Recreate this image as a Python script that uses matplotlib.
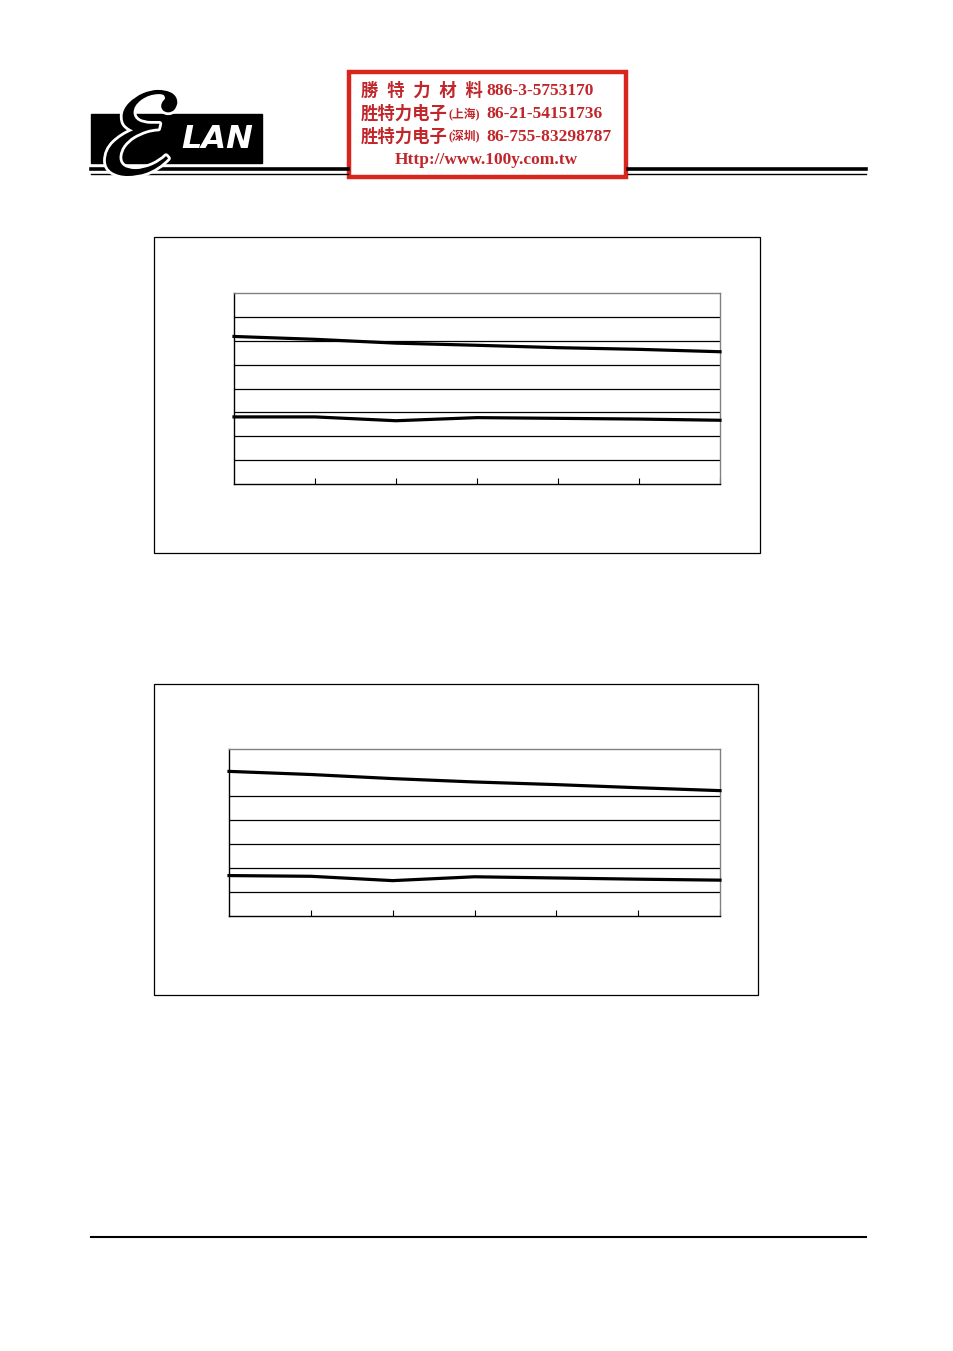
import matplotlib.pyplot as plt
import matplotlib.patheffects as pe
from matplotlib.patches import Rectangle
from matplotlib.lines import Line2D

# page is 954 x 1351 px, drawn at 100 dpi
W, H = 954, 1351

# x positions (no axis labels survive on the page)
x_pts = [0, 1, 2, 3, 4, 5, 6]

# chart 1 (grid units, 8 divisions)
c1_upper = [6.18, 6.06, 5.90, 5.81, 5.71, 5.64, 5.54]
c1_lower = [2.81, 2.81, 2.65, 2.78, 2.75, 2.72, 2.67]

# chart 2 (grid units, top at ~7)
c2_upper = [6.01, 5.88, 5.71, 5.57, 5.46, 5.33, 5.21]
c2_lower = [1.68, 1.65, 1.47, 1.63, 1.58, 1.53, 1.49]

# red contact box in the page header
header_names = ["勝  特  力  材  料", "胜特力电子", "胜特力电子"]
header_places = ["", "(上海)", "(深圳)"]
header_phones = ["886-3-5753170", "86-21-54151736", "86-755-83298787"]
url = "Http://www.100y.com.tw"

RED = "#c0262a"
FAM = ["Liberation Serif", "Noto Sans CJK SC"]


def fx(px):
    return px / W


def fy(py):
    return 1 - py / H


def box(fig, x0, y0, x1, y1, **kw):
    fig.add_artist(Rectangle((fx(x0), fy(y1)), fx(x1) - fx(x0), fy(y0) - fy(y1),
                             transform=fig.transFigure, fill=False, **kw))


def hline(fig, x0, x1, y, lw, color="black"):
    fig.add_artist(Line2D([fx(x0), fx(x1)], [fy(y), fy(y)], transform=fig.transFigure,
                          color=color, linewidth=lw))


def chart(fig, rect_px, upper, lower, ymax, grid_levels):
    x0, y0, x1, y1 = rect_px
    ax = fig.add_axes([fx(x0), fy(y1), fx(x1) - fx(x0), fy(y0) - fy(y1)])
    ax.plot(x_pts, upper, color="black", linewidth=2.3, clip_on=False, zorder=3)
    ax.plot(x_pts, lower, color="black", linewidth=2.3, clip_on=False, zorder=3)
    for g in grid_levels:
        ax.axhline(g, color="black", linewidth=0.9, zorder=1)
    ax.set_xlim(0, 6)
    ax.set_ylim(0, ymax)
    ax.set_xticks(x_pts[1:])
    ax.set_yticks([])
    ax.tick_params(axis="x", direction="in", length=4, width=0.8, labelbottom=False)
    for s in ("left", "bottom"):
        ax.spines[s].set_color("black")
        ax.spines[s].set_linewidth(1.0)
    for s in ("top", "right"):
        ax.spines[s].set_color("#808080")
        ax.spines[s].set_linewidth(1.0)
    return ax


fig = plt.figure(figsize=(W / 100, H / 100), dpi=100)

# --- header: logo ---
fig.add_artist(Rectangle((fx(91), fy(163)), fx(262) - fx(91), fy(114) - fy(163),
                         transform=fig.transFigure, color="black"))
fig.text(fx(217), fy(139), "LAN", color="white", fontsize=23, fontweight="bold",
         fontstyle="italic", ha="center", va="center", family="DejaVu Sans")
fig.text(fx(140), fy(140), r"$\mathcal{E}$", color="black", fontsize=92,
         ha="center", va="center",
         path_effects=[pe.withStroke(linewidth=4, foreground="white")])

hline(fig, 91, 348, 169, 2.6)
hline(fig, 91, 348, 174, 1.0)
hline(fig, 628, 866, 169, 2.6)
hline(fig, 628, 866, 174, 1.0)

# --- header: red contact box ---
fig.add_artist(Rectangle((fx(349), fy(177)), fx(626) - fx(349), fy(72) - fy(177),
                         transform=fig.transFigure, fill=True, facecolor="white",
                         edgecolor="#d8261c", linewidth=3.2))
for i, (name, place, phone) in enumerate(zip(header_names, header_places, header_phones)):
    y = fy(91 + 23 * i)
    fig.text(fx(361), y, name, color=RED, fontsize=12.5, fontweight="bold",
             ha="left", va="center", family=FAM)
    if place:
        fig.text(fx(449), y, place, color=RED, fontsize=8.5, fontweight="bold",
                 ha="left", va="center", family=FAM)
    fig.text(fx(486), y, phone, color=RED, fontsize=12.5, fontweight="bold",
             ha="left", va="center", family=FAM)
fig.text(fx(486), fy(160), url, color=RED, fontsize=12.5, fontweight="bold",
         ha="center", va="center", family=FAM)

# --- chart 1 ---
box(fig, 154, 237, 760, 553, edgecolor="black", linewidth=0.9)
chart(fig, (234, 293, 720, 484), c1_upper, c1_lower, 8, [1, 2, 3, 4, 5, 6, 7])

# --- chart 2 ---
box(fig, 154, 684, 758, 995, edgecolor="black", linewidth=0.9)
chart(fig, (229, 749, 720, 916), c2_upper, c2_lower, 6.94, [1, 2, 3, 4, 5])

# footer rule
hline(fig, 91, 866, 1237, 1.5)

fig.savefig("out.png", dpi=100)
